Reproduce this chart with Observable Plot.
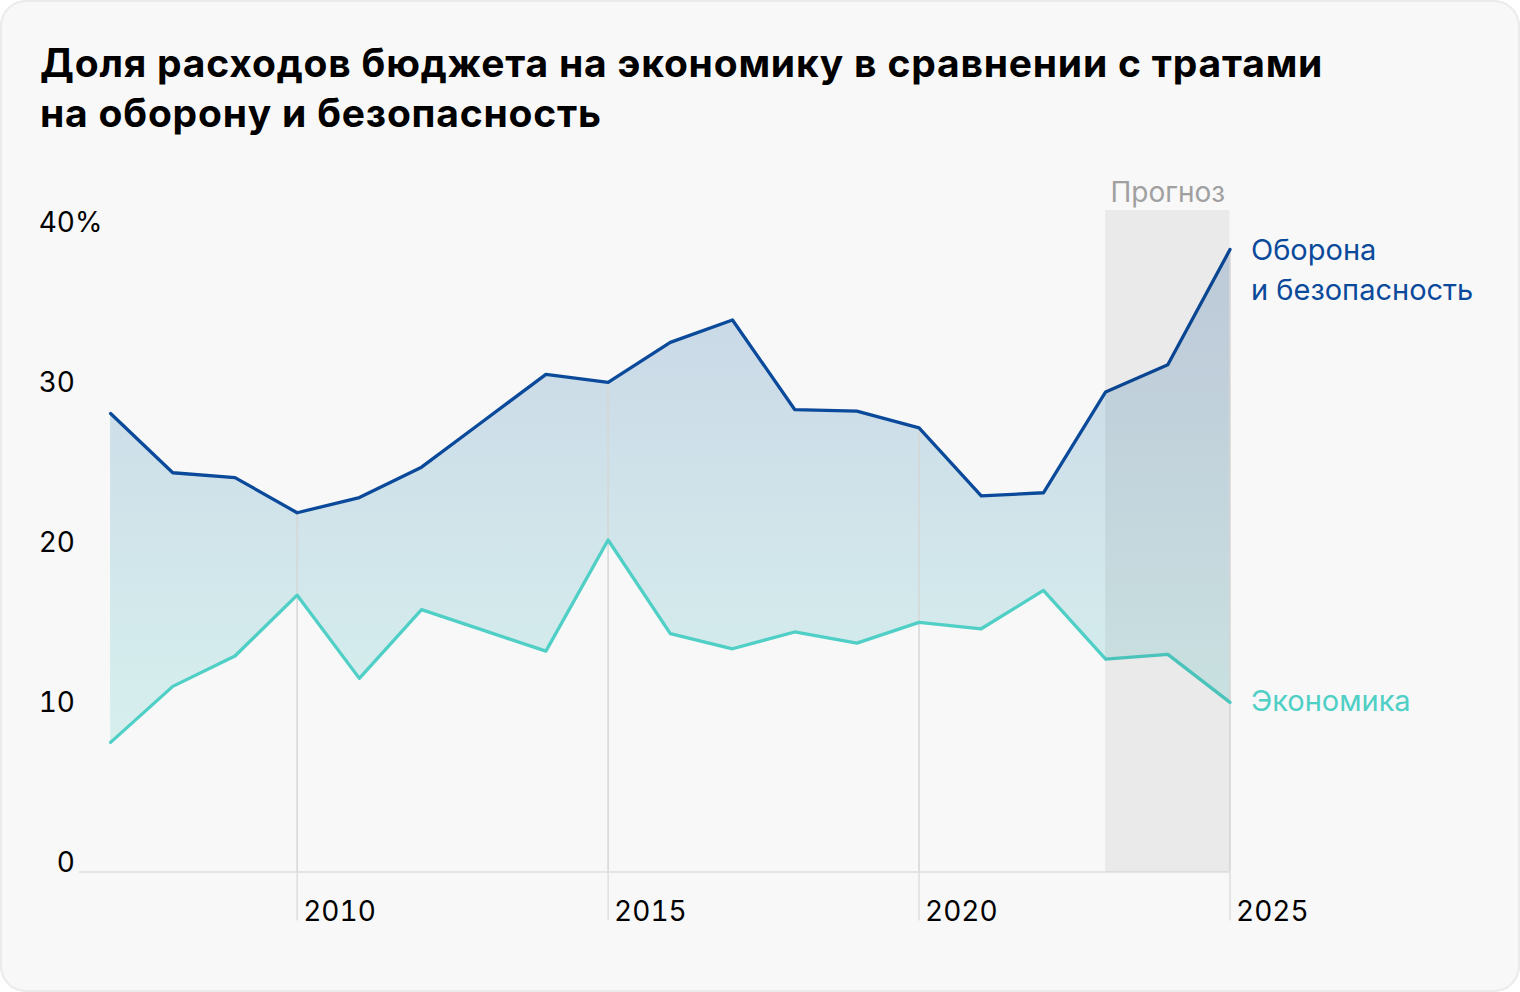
<!DOCTYPE html>
<html><head><meta charset="utf-8">
<script src="https://cdn.jsdelivr.net/npm/d3@7"></script>
<script src="https://cdn.jsdelivr.net/npm/@observablehq/plot@0.6"></script>
<style>
html,body{margin:0;padding:0;background:#fff;}
#card{position:absolute;left:0;top:0;width:1520px;height:992px;box-sizing:border-box;border-radius:26px;background:#f8f8f8;box-shadow:inset 0 0 0 2px #ebebeb;overflow:hidden;font-family:Inter, sans-serif;}
#title{position:absolute;left:40px;top:38px;font-size:39px;font-weight:700;letter-spacing:0.8px;line-height:50px;color:#000;margin:0;white-space:nowrap;}
#chart{position:absolute;left:0;top:150px;}
</style></head>
<body>
<div id="card">
  <h1 id="title">Доля расходов бюджета на экономику в сравнении с тратами<br>на оборону и безопасность</h1>
  <div id="chart"></div>
</div>
<script>
const years   = [2007, 2008, 2009, 2010, 2011, 2012, 2013, 2014, 2015, 2016, 2017, 2018, 2019, 2020, 2021, 2022, 2023, 2024, 2025];
const defense = [28.65, 24.95, 24.65, 22.45, 23.4, 25.3, 28.2, 31.1, 30.6, 33.1, 34.5, 28.9, 28.8, 27.75, 23.5, 23.7, 30.0, 31.7, 38.9];
const economy = [8.1, 11.6, 13.5, 17.3, 12.1, 16.4, 15.1, 13.8, 20.75, 14.9, 13.95, 15.0, 14.3, 15.6, 15.2, 17.6, 13.3, 13.6, 10.6];
const yTicks = [0, 10, 20, 30, 40];
const xTicks = [2010, 2015, 2020, 2025];
const forecast = [{start: 2023, end: 2025, label: "Прогноз"}];
const seriesLabels = {defense: "Оборона\nи безопасность", economy: "Экономика"};

const defColor = "#0b4a9b";
const ecoColor = "#4fcfc5";

const data = years.map((year, i) => ({year, defense: defense[i], economy: economy[i]}));
const last = data[data.length - 1];

const gradient = () => {
  const defs = d3.create("svg:defs");
  const g = defs.append("linearGradient").attr("id", "areaGrad")
    .attr("x1", 0).attr("y1", 0).attr("x2", 0).attr("y2", 1);
  g.append("stop").attr("offset", "0%").attr("stop-color", defColor).attr("stop-opacity", 0.2);
  g.append("stop").attr("offset", "100%").attr("stop-color", ecoColor).attr("stop-opacity", 0.2);
  return defs.node();
};

const chart = Plot.plot({
  width: 1520,
  height: 800,
  marginTop: 60,
  marginBottom: 78.5,
  marginLeft: 79,
  marginRight: 290.5,
  x: {domain: [2006.5, 2025], axis: null},
  y: {domain: [0, 41.34], axis: null},
  style: {background: "transparent", fontFamily: "Inter, sans-serif", fontSize: "28px", color: "#000", overflow: "visible"},
  marks: [
    gradient,
    Plot.areaY(data, {x: "year", y1: "economy", y2: "defense", fill: "url(#areaGrad)"}),
    Plot.ruleY([0], {stroke: "#dedede", strokeWidth: 1.5}),
    Plot.ruleX(data.filter(d => xTicks.includes(d.year)), {x: "year", y1: 0, y2: "defense", stroke: "#d6d6d6", strokeWidth: 1.5}),
    Plot.axisX(xTicks, {anchor: "bottom", tickSize: 49, tickPadding: 0, stroke: "#dedede", strokeWidth: 1.5, tickFormat: () => ""}),
    Plot.text(xTicks, {x: d => d, text: d => String(d), frameAnchor: "bottom", dy: 48.5, dx: 6, textAnchor: "start", lineAnchor: "bottom", fill: "#000", fontSize: 28, fontVariant: "tabular-nums"}),
    Plot.line(data, {x: "year", y: "defense", stroke: defColor, strokeWidth: 3.3, strokeLinejoin: "round", strokeLinecap: "round"}),
    Plot.line(data, {x: "year", y: "economy", stroke: ecoColor, strokeWidth: 3.3, strokeLinejoin: "round", strokeLinecap: "round"}),
    Plot.rect(forecast, {x1: "start", x2: "end", fill: "#000", fillOpacity: 0.055}),
    Plot.text(forecast, {x: d => (d.start + d.end) / 2, text: "label", frameAnchor: "top", dy: -9, lineAnchor: "bottom", fill: "#a0a0a0", fontSize: 28}),
    Plot.text(yTicks, {y: d => d, text: d => String(d), frameAnchor: "left", dx: -4.5, textAnchor: "end", lineAnchor: "bottom", fill: "#000", fontSize: 28, fontVariant: "tabular-nums"}),
    Plot.text(yTicks.slice(-1), {y: d => d, text: () => "%", frameAnchor: "left", dx: -4.5, textAnchor: "start", lineAnchor: "bottom", fill: "#000", fontSize: 28}),
    Plot.text([last], {x: "year", y: "defense", text: () => seriesLabels.defense, dx: 21, dy: 50, textAnchor: "start", lineAnchor: "bottom", lineHeight: 1.38, fill: defColor, fontSize: 29}),
    Plot.text([last], {x: "year", y: "economy", text: () => seriesLabels.economy, dx: 21, dy: 8.5, textAnchor: "start", lineAnchor: "bottom", fill: ecoColor, fontSize: 29})
  ]
});
document.getElementById("chart").appendChild(chart);
</script>
</body></html>
